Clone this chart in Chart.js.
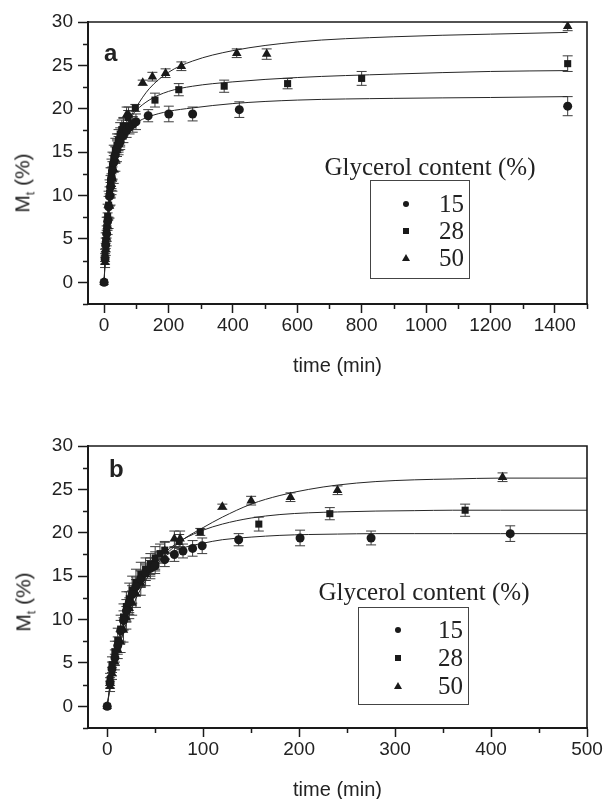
<!DOCTYPE html>
<html>
<head>
<meta charset="utf-8">
<script src="https://cdn.jsdelivr.net/npm/chart.js@4.4.1/dist/chart.umd.min.js"></script>
<style>
body { margin: 0; background: #fff; width: 605px; height: 799px; position: relative; overflow: hidden; font-family: "Liberation Sans", Arial, sans-serif; color: #222; }
.panel { position: absolute; left: 0; }
canvas { display: block; }
.ylab { position: absolute; font-size: 21px; transform: translate(-50%, -50%) rotate(-90deg); white-space: nowrap; }
.ylab sub { font-size: 12px; }
.letter { position: absolute; font-weight: bold; font-size: 24px; line-height: 1; }
.legtitle { position: absolute; font-family: "Liberation Serif", "Times New Roman", serif; font-size: 25px; white-space: nowrap; transform: translate(-50%, -50%); }
.legbox { position: absolute; border: 1px solid #444; }
.row { position: absolute; left: 0; right: 0; height: 24px; font-family: "Liberation Serif", "Times New Roman", serif; font-size: 25px; }
.row span { position: absolute; right: 5px; top: 50%; transform: translateY(-50%); }
.mk { position: absolute; top: 50%; background: #1a1a1a; }
.mk.c { width: 6px; height: 6px; border-radius: 50%; margin-top: -3px; }
.mk.s { width: 6px; height: 6px; margin-top: -3px; }
.mk.t { width: 0; height: 0; background: none; border-left: 4px solid transparent; border-right: 4px solid transparent; border-bottom: 7px solid #1a1a1a; margin-top: -4px; }
</style>
</head>
<body>
<div class="panel" style="top:0px"><canvas id="chartA" width="605" height="400"></canvas></div>
<div class="panel" style="top:424px"><canvas id="chartB" width="605" height="390"></canvas></div>

<div class="letter" style="left:104px;top:41px">a</div>
<div class="letter" style="left:109px;top:457px">b</div>
<div class="ylab" style="left:24px;top:183px">M<sub>t</sub> (%)</div>
<div class="ylab" style="left:25px;top:602px">M<sub>t</sub> (%)</div>

<div class="legtitle" style="left:430px;top:167px">Glycerol content (%)</div>
<div class="legbox" style="left:370px;top:180px;width:98px;height:97px">
  <div class="row" style="top:11px"><i class="mk c" style="left:32px"></i><span>15</span></div>
  <div class="row" style="top:38px"><i class="mk s" style="left:32px"></i><span>28</span></div>
  <div class="row" style="top:65px"><i class="mk t" style="left:31px"></i><span>50</span></div>
</div>

<div class="legtitle" style="left:424px;top:592px">Glycerol content (%)</div>
<div class="legbox" style="left:358px;top:607px;width:109px;height:96px">
  <div class="row" style="top:10px"><i class="mk c" style="left:36px"></i><span>15</span></div>
  <div class="row" style="top:38px"><i class="mk s" style="left:36px"></i><span>28</span></div>
  <div class="row" style="top:66px"><i class="mk t" style="left:35px"></i><span>50</span></div>
</div>

<script>
// measured data, glycerol 15 / 28 / 50 %
const t15 = [0, 3, 5, 8, 11, 14, 17, 20, 23, 26, 30, 35, 40, 45, 50, 60, 70, 79, 89, 99, 137, 201, 275, 420, 1440];
const m15 = [0, 2.7, 4.3, 5.6, 7.0, 8.7, 9.9, 11.0, 12.0, 12.9, 13.8, 14.7, 15.4, 15.9, 16.2, 16.9, 17.5, 17.9, 18.2, 18.5, 19.2, 19.4, 19.4, 19.9, 20.3];
const e15 = [0, 0.6, 0.8, 0.9, 1.0, 1.2, 1.1, 1.3, 1.2, 1.0, 1.1, 1.0, 0.9, 0.9, 0.9, 0.8, 0.8, 0.8, 0.9, 0.9, 0.7, 0.9, 0.8, 0.9, 1.1];

const t28 = [0, 3, 5, 8, 11, 14, 17, 20, 23, 26, 30, 35, 40, 45, 50, 55, 60, 75, 97, 158, 232, 373, 570, 800, 1440];
const m28 = [0, 3.1, 4.8, 6.3, 7.6, 8.9, 10.3, 11.5, 12.4, 13.4, 14.3, 15.2, 15.8, 16.4, 17.1, 17.6, 18.0, 19.0, 20.1, 21.0, 22.2, 22.6, 22.9, 23.5, 25.2];
const e28 = [0, 0.7, 0.9, 1.2, 1.4, 1.6, 1.5, 1.7, 1.8, 1.6, 1.5, 1.4, 1.3, 1.2, 1.3, 1.1, 1.0, 0.8, 0.4, 0.8, 0.7, 0.7, 0.6, 0.8, 0.9];

const t50 = [0, 3, 5, 8, 11, 14, 17, 20, 23, 26, 30, 35, 40, 45, 50, 60, 70, 76, 120, 150, 191, 240, 412, 505, 1440];
const m50 = [0, 2.3, 3.8, 5.1, 6.5, 7.4, 8.8, 10.2, 11.3, 11.9, 13.0, 14.2, 15.2, 15.9, 16.7, 17.9, 19.3, 19.3, 23.0, 23.7, 24.1, 24.9, 26.4, 26.3, 29.5];
const e50 = [0, 0.6, 0.7, 0.9, 1.0, 1.2, 1.4, 1.3, 1.2, 1.4, 1.6, 1.4, 1.3, 1.2, 1.1, 1.0, 0.9, 0.9, 0.3, 0.5, 0.5, 0.5, 0.5, 0.6, 0.5];

// fitted curves (0-1440 min)
const fitTA = [0, 5, 10, 20, 30, 45, 60, 80, 100, 140, 200, 275, 400, 600, 900, 1200, 1440];
const fitA15 = [0, 4.0, 6.6, 10.6, 13.3, 15.5, 16.8, 17.8, 18.4, 19.1, 19.7, 20.1, 20.6, 21.0, 21.2, 21.3, 21.4];
const fitA28 = [0, 4.3, 7.0, 11.2, 13.9, 16.0, 17.4, 18.8, 19.8, 21.0, 22.0, 22.6, 23.1, 23.6, 24.0, 24.3, 24.4];
const fitA50 = [0, 3.6, 6.0, 10.0, 12.8, 15.5, 17.2, 18.9, 20.2, 22.3, 24.2, 25.5, 26.7, 27.7, 28.3, 28.6, 28.8];

// fitted curves (0-500 min)
const fitTB = [0, 5, 10, 20, 30, 40, 50, 60, 70, 80, 100, 120, 150, 180, 210, 240, 280, 320, 360, 410, 450, 500];
const fitB15 = [0, 4.2, 6.9, 10.9, 13.6, 15.3, 16.5, 17.3, 17.9, 18.3, 18.8, 19.2, 19.5, 19.7, 19.8, 19.85, 19.9, 19.9, 19.9, 19.9, 19.9, 19.9];
const fitB28 = [0, 3.8, 6.3, 10.2, 13.0, 15.0, 16.5, 17.7, 18.6, 19.3, 20.3, 21.0, 21.7, 22.1, 22.3, 22.4, 22.5, 22.55, 22.6, 22.6, 22.6, 22.6];
const fitB50 = [0, 3.5, 5.8, 9.6, 12.4, 14.5, 16.1, 17.4, 18.4, 19.3, 20.6, 21.8, 23.3, 24.3, 25.0, 25.5, 25.9, 26.1, 26.2, 26.3, 26.3, 26.3];

const seriesNames = ['15', '28', '50'];
const yTicks = [0, 5, 10, 15, 20, 25, 30];
const yMinor = [-2.5, 2.5, 7.5, 12.5, 17.5, 22.5, 27.5];
const xTicksA = [0, 200, 400, 600, 800, 1000, 1200, 1400];
const xMinorA = [100, 300, 500, 700, 900, 1100, 1300, 1500];
const xTicksB = [0, 100, 200, 300, 400, 500];
const xMinorB = [50, 150, 250, 350, 450];

const ink = '#1a1a1a';

function pts(t, m, xmax) {
    return t.map((v, i) => ({ x: v, y: m[i] })).filter(p => p.x <= xmax);
}

const errorBars = {
    id: 'errorBars',
    beforeDatasetsDraw(chart) {
        const { ctx, chartArea: a } = chart;
        const x = chart.scales.x, y = chart.scales.y;
        ctx.save();
        ctx.beginPath();
        ctx.rect(a.left, a.top, a.width, a.height);
        ctx.clip();
        ctx.strokeStyle = '#3c3c3c';
        ctx.lineWidth = 1;
        chart.data.datasets.forEach(ds => {
            if (!ds.err) return;
            ds.data.forEach((p, i) => {
                const e = ds.err[i];
                if (!e) return;
                const px = x.getPixelForValue(p.x);
                const y1 = y.getPixelForValue(p.y - e);
                const y2 = y.getPixelForValue(p.y + e);
                ctx.beginPath();
                ctx.moveTo(px, y1); ctx.lineTo(px, y2);
                ctx.moveTo(px - 5, y1); ctx.lineTo(px + 5, y1);
                ctx.moveTo(px - 5, y2); ctx.lineTo(px + 5, y2);
                ctx.stroke();
            });
        });
        ctx.restore();
    }
};

const frame = {
    id: 'frame',
    afterDraw(chart, args, opts) {
        const { ctx, chartArea: a } = chart;
        const x = chart.scales.x, y = chart.scales.y;
        ctx.save();
        ctx.strokeStyle = ink;
        ctx.lineWidth = 1.5;
        ctx.beginPath();
        opts.x.forEach(v => {
            const px = Math.round(x.getPixelForValue(v)) + 0.5;
            ctx.moveTo(px, a.bottom); ctx.lineTo(px, a.bottom + 5);
        });
        opts.y.forEach(v => {
            const py = Math.round(y.getPixelForValue(v)) + 0.5;
            ctx.moveTo(a.left, py); ctx.lineTo(a.left - 5, py);
        });
        ctx.stroke();
        ctx.lineWidth = 1.6;
        ctx.beginPath();
        ctx.moveTo(a.left, a.top); ctx.lineTo(a.right, a.top); ctx.lineTo(a.right, a.bottom);
        ctx.stroke();
        ctx.restore();
    }
};

function makeChart(id, cfg) {
    const markers = [['circle', 4.5], ['rect', 5], ['triangle', 5.5]];
    const raw = [[t15, m15, e15], [t28, m28, e28], [t50, m50, e50]];
    const fits = cfg.fits;
    const datasets = [];
    raw.forEach((r, k) => {
        const data = pts(r[0], r[1], cfg.xmax);
        datasets.push({
            label: seriesNames[k],
            data,
            err: r[2].slice(0, data.length),
            showLine: false,
            pointStyle: markers[k][0],
            pointRadius: markers[k][1],
            backgroundColor: ink,
            borderColor: ink,
            borderWidth: 0,
            order: 1
        });
        datasets.push({
            label: 'fit ' + seriesNames[k],
            data: pts(cfg.fitT, fits[k], cfg.xmax),
            showLine: true,
            pointRadius: 0,
            borderColor: '#262626',
            borderWidth: 1,
            cubicInterpolationMode: 'monotone',
            order: 2
        });
    });

    return new Chart(document.getElementById(id), {
        type: 'scatter',
        data: { datasets },
        plugins: [errorBars, frame],
        options: {
            responsive: false,
            animation: false,
            layout: { padding: { left: 0, top: cfg.top, right: 18, bottom: cfg.bottom } },
            plugins: {
                legend: { display: false },
                tooltip: { enabled: false },
                frame: { x: cfg.minor, y: yMinor }
            },
            scales: {
                x: {
                    type: 'linear',
                    min: cfg.xmin,
                    max: cfg.xmax,
                    afterBuildTicks: s => { s.ticks = cfg.ticks.map(v => ({ value: v })); },
                    afterFit: s => { s.height = cfg.xh; },
                    grid: { drawOnChartArea: false, tickLength: 9, tickWidth: 1.5, tickColor: ink },
                    border: { color: ink, width: 2 },
                    ticks: { color: '#222', font: { family: 'Liberation Sans', size: 19 }, padding: 1, maxRotation: 0, autoSkip: false, callback: v => String(v) },
                    title: { display: true, text: 'time (min)', color: '#222', font: { family: 'Liberation Sans', size: 20 }, padding: { top: 0, bottom: 0 } }
                },
                y: {
                    type: 'linear',
                    min: -2.5,
                    max: 30,
                    afterBuildTicks: s => { s.ticks = yTicks.map(v => ({ value: v })); },
                    afterFit: s => { s.width = 88; },
                    grid: { drawOnChartArea: false, tickLength: 10, tickWidth: 1.5, tickColor: ink },
                    border: { color: ink, width: 2 },
                    ticks: { color: '#222', font: { family: 'Liberation Sans', size: 19 }, padding: 5, callback: v => String(v) }
                }
            }
        }
    });
}

makeChart('chartA', {
    xmin: -50, xmax: 1500, ticks: xTicksA, minor: xMinorA,
    fitT: fitTA, fits: [fitA15, fitA28, fitA50],
    top: 22, bottom: 22, xh: 74
});
makeChart('chartB', {
    xmin: -20, xmax: 500, ticks: xTicksB, minor: xMinorB,
    fitT: fitTB, fits: [fitB15, fitB28, fitB50],
    top: 22, bottom: 12, xh: 74
});
</script>
</body>
</html>
